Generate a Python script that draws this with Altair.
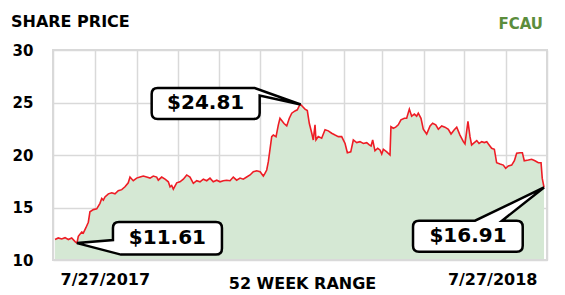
import altair as alt
import pandas as pd
import numpy as np

# ---------------- data ----------------
title_text = "SHARE PRICE"
ticker = "FCAU"
x_title = "52 WEEK RANGE"
start_label = "7/27/2017"
end_label = "7/27/2018"

# day offsets from 7/27/2017 and closing prices
days = [1.5, 3.9, 6.4, 8.9, 11.3, 13.8, 16.3, 17.7, 18.7, 21.2,
        22.4, 24.4, 26.1, 27.3, 29.8, 32.3, 34.7, 36.0, 37.2, 38.4,
        40.9, 43.4, 45.8, 48.2, 50.8, 53.2, 55.6, 56.9, 59.3, 61.8,
        64.3, 66.7, 69.2, 71.7, 74.1, 76.6, 77.8, 80.3, 82.8, 85.2,
        86.5, 87.7, 88.9, 91.4, 93.8, 96.3, 98.8, 101.2, 103.7, 106.2,
        108.6, 111.1, 113.6, 116.0, 118.4, 121.0, 123.4, 125.8, 128.3, 130.8,
        133.2, 135.7, 138.2, 140.6, 143.1, 145.6, 148.0, 150.5, 153.0, 155.4,
        156.6, 157.9, 159.1, 161.6, 162.8, 164.8, 166.5, 167.7, 169.0, 170.7,
        172.7, 174.6, 176.4, 178.8, 180.5, 182.0, 183.0, 184.5, 186.2, 187.9,
        189.4, 191.2, 192.3, 193.6, 194.3, 196.0, 198.5, 201.0, 203.4, 205.9,
        208.4, 210.8, 213.3, 215.8, 217.5, 220.0, 221.9, 224.4, 226.8, 229.3,
        231.8, 233.7, 235.0, 236.2, 237.9, 239.9, 241.6, 242.9, 244.1, 246.6,
        249.0, 249.7, 251.4, 253.2, 255.1, 257.1, 259.6, 261.3, 263.3, 265.0,
        267.0, 268.7, 269.9, 271.9, 273.6, 276.1, 278.6, 280.5, 282.8, 284.7,
        287.2, 289.6, 292.1, 294.1, 296.5, 298.3, 300.7, 303.2, 304.4, 306.6,
        308.1, 309.3, 311.3, 313.1, 314.8, 316.8, 318.7, 320.5, 321.7, 324.1,
        326.1, 327.8, 330.3, 332.7, 334.5, 336.4, 338.9, 340.9, 342.6, 345.1,
        346.8, 348.2, 351.2, 353.7, 356.1, 358.6, 360.6, 361.5, 362.8]

prices = [11.95, 12.1, 12.0, 12.13, 11.95, 12.1, 11.75, 11.61, 12.26, 12.67,
          12.57, 13.1, 13.6, 14.6, 14.8, 14.87, 15.4, 15.86, 15.7, 16.0,
          16.3, 16.4, 16.3, 16.6, 16.7, 16.97, 17.35, 17.9, 17.55, 17.8,
          17.9, 18.0, 17.9, 17.8, 18.0, 17.9, 17.6, 17.9, 17.7, 17.45,
          16.97, 17.1, 16.75, 17.35, 17.45, 17.7, 18.1, 17.9, 17.3, 17.55,
          17.45, 17.7, 17.55, 17.8, 17.45, 17.6, 17.45, 17.55, 17.6, 17.55,
          17.9, 17.6, 17.8, 17.7, 17.9, 18.1, 18.4, 18.5, 18.4, 18.0,
          18.25, 18.57, 19.36, 21.75, 21.9, 21.75, 22.87, 23.5, 23.28, 23.0,
          22.77, 23.5, 23.98, 24.2, 24.3, 24.7, 24.81, 24.6, 24.37, 24.23,
          23.0, 22.07, 21.43, 22.87, 21.43, 21.75, 21.6, 22.4, 22.3, 22.07,
          21.9, 21.75, 21.75, 21.1, 20.22, 20.3, 21.43, 21.18, 21.27, 21.1,
          21.18, 20.96, 20.86, 21.43, 20.4, 20.64, 20.48, 20.1, 20.55, 20.3,
          20.0, 22.7, 22.55, 22.65, 22.87, 23.35, 23.5, 23.5, 24.37, 23.7,
          23.9, 23.7, 23.98, 23.5, 22.45, 22.0, 22.77, 23.03, 22.87, 22.45,
          22.77, 22.65, 22.45, 22.0, 22.4, 22.65, 21.9, 21.27, 21.05, 23.2,
          21.75, 20.96, 21.18, 21.37, 21.1, 21.27, 21.18, 21.27, 21.05, 20.64,
          20.55, 19.26, 19.14, 19.04, 18.73, 18.95, 19.04, 19.45, 20.16, 20.22,
          20.22, 19.45, 19.52, 19.59, 19.45, 19.26, 19.26, 17.77, 16.91]

# month ticks (27th of each month, as day offsets)
month_days = [0, 31, 62, 92, 123, 153, 184, 215, 243, 274, 304, 335, 365]
y_ticks = [10, 15, 20, 25, 30]

# ---------------- styles ----------------
FONT = "DejaVu Sans"
GRID = "#d9d9d9"
FILL = "#d5e8d4"
LINE = "#ee1c25"
GREEN = "#5b8d3c"

df = pd.DataFrame({"day": days, "price": prices})

x_axis = alt.Axis(
    values=month_days,
    labelExpr=(f"datum.value == {month_days[0]} ? '{start_label}' : "
               f"datum.value == {month_days[-1]} ? '{end_label}' : ''"),
    labelAlign={"condition": {"test": f"datum.value == {month_days[0]}", "value": "left"},
                "value": "right"},
    labelOffset={"condition": {"test": f"datum.value == {month_days[0]}", "value": 7},
                 "value": -10},
    labelBaseline="middle", labelPadding=19,
    labelFont=FONT, labelFontSize=16, labelFontWeight="bold", labelColor="black",
    labelOverlap=False, labelFlush=False, labelBound=False,
    ticks=False, domain=False,
    grid=True, gridColor=GRID, gridWidth=1.5,
    title=x_title, titleFont=FONT, titleFontSize=16, titleFontWeight="bold",
    titleColor="black", titleBaseline="middle", titleY=23, titleX=249,
)

y_axis = alt.Axis(
    values=y_ticks, labelAlign="left", labelPadding=41, labelBaseline="middle",
    labelFont=FONT, labelFontSize=15, labelFontWeight="bold", labelColor="black",
    labelOverlap=False, labelBound=False,
    ticks=False, domain=False, grid=True, gridColor=GRID, gridWidth=1.5,
)

x_enc = alt.X("day:Q", scale=alt.Scale(domain=[month_days[0], month_days[-1]], nice=False, zero=False),
              axis=x_axis)
y_enc = alt.Y("price:Q", scale=alt.Scale(domain=[y_ticks[0], y_ticks[-1]], nice=False, zero=False),
              axis=y_axis, title=None)

base = alt.Chart(df)
area = base.mark_area(color=FILL, opacity=1).encode(x=x_enc, y=y_enc, y2=alt.datum(y_ticks[0]))
line = base.mark_line(color=LINE, strokeWidth=1.6).encode(x=x_enc, y=y_enc)
bottom = base.mark_rule(color=GRID, strokeWidth=2).encode(y=alt.datum(y_ticks[0]))

# speech-bubble shapes (pixel units relative to the anchored data point)
P_MAX = ("M0,0 L-46,-16.5 L-143,-16.5 Q-149,-16.5 -149,-10.5 L-149,8.5 Q-149,14.5 -143,14.5 "
         "L-47,14.5 Q-41,14.5 -41,8.5 L-41,-9 Z")
P_MIN = ("M0,0 L36,-3 L36,-15 Q36,-21 42,-21 L139,-21 Q145,-21 145,-15 L145,5.5 "
         "Q145,11.5 139,11.5 L44,11.5 Z")
P_LAST = ("M0,0 L-42,33.3 L-27.3,33.3 Q-21.3,33.3 -21.3,39.3 L-21.3,58.3 Q-21.3,64.3 -27.3,64.3 "
          "L-125,64.3 Q-131,64.3 -131,58.3 L-131,39.3 Q-131,33.3 -125,33.3 L-69,33.3 Z")

i_max = int(np.argmax(prices))
i_min = int(np.argmin(prices))
i_last = len(prices) - 1

callouts = [(i_max, P_MAX, -95, -1), (i_min, P_MIN, 90.5, -4.75), (i_last, P_LAST, -76, 48.8)]

layers = [area, line, bottom]
for idx, path, tdx, tdy in callouts:
    d = pd.DataFrame({"day": [days[idx]], "price": [prices[idx]],
                      "label": [f"${prices[idx]:.2f}"]})
    bubble = alt.Chart(d).mark_point(
        shape=path, size=4, filled=True, fill="white", stroke="black",
        strokeWidth=2.5, opacity=1, fillOpacity=1, strokeOpacity=1,
    ).encode(x=x_enc, y=y_enc)
    txt = alt.Chart(d).mark_text(
        dx=tdx, dy=tdy, fontSize=20, font=FONT, fontWeight="bold", color="black",
        align="center", baseline="middle",
    ).encode(x=x_enc, y=y_enc, text="label:N")
    layers += [bubble, txt]

tick_df = pd.DataFrame({"day": [month_days[-1]], "label": [ticker]})
tick_text = alt.Chart(tick_df).mark_text(
    align="right", baseline="middle", dx=-4, dy=-26, fontSize=15, font=FONT,
    fontWeight="bold", color=GREEN,
).encode(x=x_enc, y=alt.value(0), text="label:N")
layers.append(tick_text)

chart = alt.layer(*layers).properties(
    width=494, height=210,
    autosize=alt.AutoSizeParams(type="none"),
    padding={"left": 53, "top": 50, "right": 18, "bottom": 35},
    title=alt.TitleParams(title_text, anchor="start", frame="group", dx=-42, dy=25, offset=12,
                          fontSize=16, font=FONT, fontWeight="bold", color="black"),
    background="white",
).configure_view(stroke=GRID, strokeWidth=2)

chart.save("out.html", embed_options={"renderer": "svg", "actions": False})
